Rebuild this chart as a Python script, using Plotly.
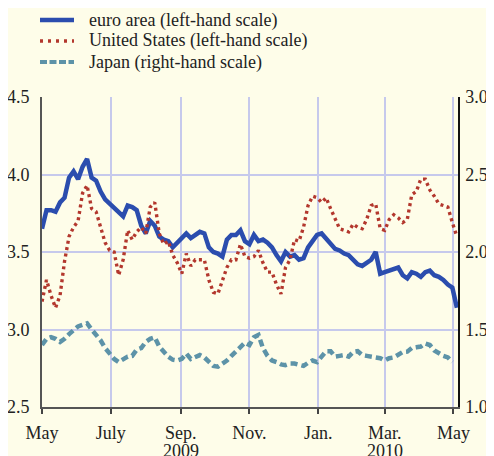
import pandas as pd
import plotly.graph_objects as go

# Sampling dates (every 4 days from 1 May 2009)
dates = pd.date_range("2009-05-01", periods=93, freq="4D")

euro_area = [
    3.65, 3.77, 3.77, 3.76, 3.82, 3.85, 3.98, 4.02, 3.97, 4.05,
    4.10, 3.98, 3.96, 3.89, 3.84, 3.81, 3.78, 3.75, 3.73, 3.80,
    3.79, 3.77, 3.67, 3.62, 3.70, 3.67, 3.60, 3.58, 3.57, 3.53,
    3.56, 3.58, 3.62, 3.59, 3.61, 3.63, 3.62, 3.53, 3.50, 3.49,
    3.47, 3.58, 3.61, 3.61, 3.64, 3.57, 3.55, 3.61, 3.57, 3.58,
    3.56, 3.53, 3.48, 3.44, 3.50, 3.47, 3.48, 3.45, 3.46, 3.53,
    3.57, 3.61, 3.62, 3.59, 3.55, 3.52, 3.51, 3.49, 3.48, 3.45,
    3.42, 3.41, 3.43, 3.45, 3.50, 3.36, 3.37, 3.38, 3.39, 3.40,
    3.35, 3.33, 3.37, 3.36, 3.34, 3.37, 3.38, 3.35, 3.34, 3.32,
    3.29, 3.27, 3.14,
]

united_states = [
    3.18, 3.32, 3.22, 3.14, 3.22, 3.44, 3.60, 3.66, 3.70, 3.88,
    3.93, 3.78, 3.76, 3.66, 3.56, 3.51, 3.50, 3.35, 3.45, 3.64,
    3.58, 3.63, 3.66, 3.62, 3.79, 3.82, 3.62, 3.55, 3.57, 3.48,
    3.43, 3.36, 3.49, 3.41, 3.45, 3.45, 3.45, 3.32, 3.24, 3.23,
    3.32, 3.40, 3.45, 3.45, 3.55, 3.47, 3.46, 3.47, 3.51, 3.43,
    3.37, 3.37, 3.29, 3.23, 3.40, 3.45, 3.58, 3.57, 3.66, 3.80,
    3.86, 3.85, 3.82, 3.85, 3.78, 3.71, 3.65, 3.64, 3.63, 3.68,
    3.66, 3.65, 3.71, 3.80, 3.81, 3.65, 3.64, 3.71, 3.74, 3.72,
    3.69, 3.71, 3.87, 3.89, 3.97, 3.97, 3.90, 3.86, 3.81, 3.80,
    3.79, 3.69, 3.60,
]

japan = [
    1.40, 1.44, 1.45, 1.44, 1.42, 1.44, 1.47, 1.50, 1.52, 1.53,
    1.54, 1.50, 1.47, 1.43, 1.38, 1.34, 1.31, 1.29, 1.31, 1.325,
    1.33, 1.37, 1.38, 1.42, 1.44, 1.45, 1.39, 1.355, 1.325, 1.305,
    1.30, 1.31, 1.345, 1.31, 1.325, 1.335, 1.32, 1.29, 1.265, 1.26,
    1.28, 1.30, 1.33, 1.36, 1.38, 1.415, 1.40, 1.45, 1.465, 1.38,
    1.33, 1.30, 1.29, 1.275, 1.27, 1.28, 1.28, 1.27, 1.265, 1.285,
    1.30, 1.29, 1.33, 1.36, 1.36, 1.325, 1.33, 1.335, 1.325, 1.355,
    1.36, 1.335, 1.33, 1.325, 1.325, 1.315, 1.30, 1.315, 1.32, 1.34,
    1.355, 1.357, 1.38, 1.385, 1.39, 1.41, 1.40, 1.365, 1.345, 1.33,
    1.32, 1.29, None,
]

series_names = ["euro area (left-hand scale)",
                "United States (left-hand scale)",
                "Japan (right-hand scale)"]

tick_dates = ["2009-05-01", "2009-07-01", "2009-09-01", "2009-11-01",
              "2010-01-01", "2010-03-01", "2010-05-01"]
tick_labels = ["May", "July", "Sep.", "Nov.", "Jan.", "Mar.", "May"]
year_dates = ["2009-09-01", "2010-03-01"]
year_labels = ["2009", "2010"]
year_tick = ["2010-01-01"]

BG = "#FEFDE9"
GRID = "#C6C9EC"
FONT = "Liberation Serif"
TXT = "#222"
COLORS = ["#2B4DAE", "#B3372D", "#5D93A8"]
WIDTHS = [4.5, 3.4, 4.5]
DASHES = ["solid", "3px,3.5px", "7px,4px"]
LEGEND_DASHES = ["solid", "3px,5px", "7px,2.5px"]
LEGEND_WIDTHS = [4.5, 3.4, 4.0]

# The page body has an 8px margin; the figure is laid out accordingly
OFF = 8
W, H = 494, 456
ML, MR, MT, MB = 34, 44, 89, 57
PW, PH = W - ML - MR, H - MT - MB

fig = go.Figure()
fig.add_trace(go.Scatter(
    x=dates, y=euro_area, name=series_names[0], mode="lines",
    line=dict(color=COLORS[0], width=WIDTHS[0]), yaxis="y"))
fig.add_trace(go.Scatter(
    x=dates, y=united_states, name=series_names[1], mode="lines",
    line=dict(color=COLORS[1], width=WIDTHS[1], dash=DASHES[1]), yaxis="y"))
fig.add_trace(go.Scatter(
    x=dates, y=japan, name=series_names[2], mode="lines",
    line=dict(color=COLORS[2], width=WIDTHS[2], dash=DASHES[2]), yaxis="y2"))


def px_x(px):
    return (px - OFF - ML) / PW


def px_y(py):
    return (H - MB - (py - OFF)) / PH


legend_rows = [20, 41, 62]
shapes = []
annotations = []
for name, col, wid, dash, row in zip(series_names, COLORS, LEGEND_WIDTHS, LEGEND_DASHES, legend_rows):
    shapes.append(dict(type="line", xref="paper", yref="paper",
                       x0=px_x(40), x1=px_x(74), y0=px_y(row), y1=px_y(row),
                       line=dict(color=col, width=wid, dash=dash)))
    annotations.append(dict(text=name, xref="paper", yref="paper",
                            x=px_x(87), y=px_y(row), xanchor="left", yanchor="middle",
                            showarrow=False,
                            font=dict(family=FONT, size=18, color=TXT)))

# Year labels under the Sep. and Mar. ticks
for d, lab in zip(year_dates, year_labels):
    annotations.append(dict(text=lab, xref="x", yref="paper", x=d, y=px_y(439),
                            xanchor="center", yanchor="top", showarrow=False,
                            font=dict(family=FONT, size=18, color=TXT)))

fig.update_layout(
    width=W, height=H,
    margin=dict(l=ML, r=MR, t=MT, b=MB, autoexpand=False),
    paper_bgcolor=BG, plot_bgcolor=BG,
    font=dict(family=FONT, size=18, color=TXT),
    showlegend=False,
    shapes=shapes, annotations=annotations,
    xaxis=dict(
        type="date", range=["2009-05-01", "2010-05-05"],
        tickmode="array", tickvals=tick_dates, ticktext=tick_labels,
        ticks="outside", ticklen=5, tickwidth=1.5, tickcolor="#444",
        ticklabelstandoff=3,
        showline=True, linecolor="#555", linewidth=2,
        showgrid=True, gridcolor=GRID, gridwidth=1.5, zeroline=False,
        tickfont=dict(family=FONT, size=18, color=TXT), automargin=False,
    ),
    xaxis2=dict(
        type="date", range=["2009-05-01", "2010-05-05"], overlaying="x",
        anchor="y", side="bottom",
        tickmode="array", tickvals=year_tick, showticklabels=False,
        ticks="outside", ticklen=10, tickwidth=1.5, tickcolor="#444",
        showline=False, showgrid=False, zeroline=False, automargin=False,
    ),
    yaxis=dict(
        range=[2.5, 4.5], tick0=2.5, dtick=0.5, tickformat=".1f",
        showline=True, linecolor="#555", linewidth=2,
        showgrid=True, gridcolor=GRID, gridwidth=1.5, zeroline=False,
        ticks="", ticklabelstandoff=7, automargin=False,
        tickfont=dict(family=FONT, size=18, color=TXT),
    ),
    yaxis2=dict(
        range=[1.0, 3.0], tick0=1.0, dtick=0.5, tickformat=".1f",
        overlaying="y", side="right",
        showline=True, linecolor="#111", linewidth=1.5,
        showgrid=False, zeroline=False, ticks="", ticklabelstandoff=2,
        automargin=False,
        tickfont=dict(family=FONT, size=18, color=TXT),
    ),
)

fig.write_html("out.html")
